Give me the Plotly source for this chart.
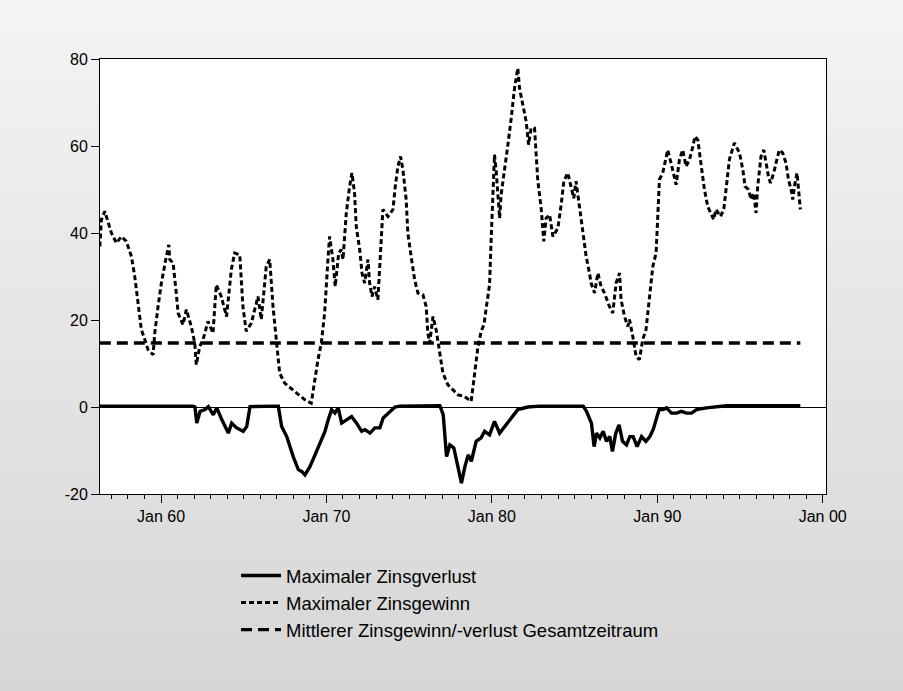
import base64
import plotly.graph_objects as go

# ---------------- data ----------------
gain_years = [1956.30, 1956.39, 1956.60, 1956.80, 1957.00, 1957.30, 1957.60, 1957.90, 1958.21, 1958.41,
              1958.61, 1958.81, 1959.02, 1959.21, 1959.52, 1959.62, 1959.82, 1960.02, 1960.32, 1960.47,
              1960.53, 1960.73, 1960.92, 1961.03, 1961.33, 1961.53, 1961.83, 1962.04, 1962.13, 1962.34,
              1962.54, 1962.84, 1963.14, 1963.34, 1963.64, 1963.96, 1964.25, 1964.45, 1964.76, 1964.95,
              1965.15, 1965.46, 1965.86, 1966.06, 1966.36, 1966.57, 1966.77, 1966.97, 1967.17, 1967.47,
              1968.08, 1968.68, 1969.08, 1969.29, 1969.49, 1969.69, 1969.89, 1970.09, 1970.19, 1970.39,
              1970.53, 1970.74, 1970.89, 1971.00, 1971.10, 1971.20, 1971.40, 1971.54, 1971.70, 1971.80,
              1972.01, 1972.15, 1972.31, 1972.51, 1972.61, 1972.75, 1972.91, 1973.11, 1973.28, 1973.41,
              1973.72, 1974.02, 1974.16, 1974.32, 1974.48, 1974.62, 1974.82, 1974.92, 1975.12, 1975.33,
              1975.53, 1975.83, 1976.03, 1976.13, 1976.24, 1976.44, 1976.63, 1976.84, 1977.04, 1977.34,
              1977.95, 1978.35, 1978.75, 1978.95, 1979.15, 1979.35, 1979.52, 1979.66, 1979.86, 1979.96,
              1980.06, 1980.16, 1980.26, 1980.36, 1980.47, 1980.56, 1980.77, 1980.97, 1981.17, 1981.37,
              1981.57, 1981.67, 1981.87, 1982.07, 1982.22, 1982.37, 1982.58, 1982.68, 1982.78, 1982.98,
              1983.14, 1983.28, 1983.49, 1983.69, 1983.99, 1984.19, 1984.35, 1984.59, 1984.79, 1984.95,
              1985.09, 1985.30, 1985.40, 1985.60, 1985.70, 1985.90, 1986.00, 1986.21, 1986.41, 1986.60,
              1986.81, 1987.11, 1987.31, 1987.51, 1987.72, 1987.81, 1988.02, 1988.22, 1988.32, 1988.52,
              1988.72, 1988.92, 1989.12, 1989.32, 1989.53, 1989.73, 1989.93, 1990.03, 1990.13, 1990.33,
              1990.53, 1990.63, 1990.83, 1991.04, 1991.14, 1991.34, 1991.54, 1991.74, 1991.95, 1992.15,
              1992.28, 1992.45, 1992.65, 1992.85, 1993.05, 1993.21, 1993.41, 1993.55, 1993.82, 1994.02,
              1994.16, 1994.36, 1994.66, 1994.97, 1995.17, 1995.31, 1995.51, 1995.67, 1995.83, 1995.97,
              1996.07, 1996.27, 1996.44, 1996.57, 1996.72, 1996.84, 1997.04, 1997.18, 1997.38, 1997.58,
              1997.78, 1997.93, 1998.09, 1998.19, 1998.29, 1998.45, 1998.55, 1998.65]
gain_values = [36.9, 43.0, 45.0, 42.4, 40.0, 37.7, 39.2, 38.1, 34.6, 30.0,
               23.9, 17.8, 15.5, 13.2, 12.0, 17.0, 23.1, 28.5, 34.6, 37.3,
               33.9, 33.1, 26.2, 21.6, 18.9, 22.4, 18.5, 14.7, 9.7, 13.9,
               15.5, 19.7, 17.0, 28.1, 25.4, 20.8, 31.6, 35.4, 35.0, 23.1,
               17.4, 19.3, 25.4, 20.1, 32.3, 33.9, 23.1, 14.7, 7.8, 5.5,
               3.6, 1.7, 0.9, 6.3, 10.9, 14.7, 21.6, 33.9, 39.2, 33.9,
               27.7, 35.4, 36.2, 33.9, 40.0, 44.6, 50.7, 53.8, 49.2, 41.5,
               36.2, 30.8, 28.5, 33.9, 28.5, 25.4, 27.7, 24.7, 36.2, 45.4,
               43.8, 45.4, 50.7, 55.3, 57.6, 54.6, 47.7, 40.0, 34.6, 29.3,
               26.2, 25.8, 23.1, 17.0, 14.7, 20.8, 17.8, 12.4, 7.8, 5.1,
               2.8, 2.4, 1.3, 7.4, 13.6, 17.4, 18.9, 22.8, 28.1, 38.9,
               50.3, 58.0, 54.2, 48.8, 43.4, 48.8, 54.2, 60.3, 66.4, 73.3,
               77.9, 73.3, 69.5, 65.7, 60.3, 64.1, 64.1, 58.0, 51.9, 45.7,
               38.1, 43.4, 44.2, 39.2, 41.1, 46.5, 51.9, 53.8, 50.3, 48.0,
               51.9, 45.7, 42.3, 37.7, 34.6, 30.8, 28.5, 26.2, 30.8, 27.7,
               26.2, 23.1, 21.6, 28.5, 30.8, 24.7, 20.8, 18.5, 20.1, 16.2,
               11.6, 10.9, 15.5, 17.8, 24.7, 32.3, 35.4, 45.4, 52.3, 53.8,
               56.9, 59.1, 56.1, 53.0, 51.1, 56.9, 59.1, 55.3, 56.9, 59.9,
               62.2, 61.4, 55.3, 50.0, 46.1, 44.6, 43.1, 45.4, 43.8, 45.4,
               50.7, 56.9, 60.7, 58.4, 54.6, 50.7, 50.0, 47.7, 49.2, 44.6,
               50.7, 57.6, 59.1, 56.1, 53.0, 51.5, 53.8, 56.1, 59.1, 58.4,
               56.1, 52.3, 50.0, 47.7, 50.7, 53.8, 50.0, 45.4]

loss_years = [1956.30, 1961.93, 1962.05, 1962.16, 1962.36, 1962.66, 1962.86, 1963.16, 1963.37, 1963.67,
              1964.07, 1964.27, 1964.57, 1964.97, 1965.18, 1965.38, 1967.09, 1967.29, 1967.60, 1967.79,
              1967.99, 1968.30, 1968.50, 1968.70, 1969.00, 1969.31, 1969.61, 1969.91, 1970.11, 1970.31,
              1970.51, 1970.71, 1970.92, 1971.22, 1971.52, 1971.82, 1972.13, 1972.33, 1972.63, 1972.93,
              1973.23, 1973.43, 1973.84, 1974.14, 1974.44, 1976.86, 1977.06, 1977.26, 1977.46, 1977.70,
              1977.90, 1978.16, 1978.37, 1978.57, 1978.76, 1979.05, 1979.35, 1979.56, 1979.86, 1980.16,
              1980.47, 1980.86, 1981.27, 1981.57, 1982.18, 1982.90, 1985.52, 1985.72, 1986.02, 1986.18,
              1986.33, 1986.53, 1986.73, 1986.93, 1987.13, 1987.29, 1987.49, 1987.69, 1987.90, 1988.14,
              1988.34, 1988.54, 1988.78, 1989.05, 1989.31, 1989.55, 1989.75, 1989.95, 1990.11, 1990.35,
              1990.56, 1990.86, 1991.16, 1991.46, 1991.76, 1992.07, 1992.37, 1992.97, 1993.58, 1994.18,
              1998.65]
loss_values = [0.2, 0.2, 0.0, -3.7, -1.0, -0.6, 0.1, -1.8, -0.2, -2.9,
               -6.0, -3.7, -4.8, -5.6, -4.5, 0.1, 0.2, -4.5, -6.8, -9.1,
               -11.4, -14.4, -14.8, -15.6, -13.7, -11.0, -8.3, -5.6, -2.9, -0.6,
               -1.4, -0.2, -3.7, -2.9, -2.2, -3.7, -5.6, -5.2, -6.0, -4.8,
               -4.8, -2.5, -1.0, 0.0, 0.2, 0.3, -1.8, -11.4, -8.7, -9.4,
               -12.9, -17.5, -13.7, -11.0, -12.5, -7.9, -7.1, -5.6, -6.4, -3.3,
               -6.0, -4.1, -1.8, -0.6, 0.0, 0.2, 0.2, -1.0, -3.7, -9.1,
               -6.0, -7.1, -5.6, -7.9, -6.8, -10.2, -6.0, -4.1, -7.9, -8.7,
               -6.8, -6.8, -9.1, -6.8, -7.9, -6.8, -5.2, -2.9, -0.6, -0.6,
               -0.2, -1.4, -1.4, -1.0, -1.4, -1.4, -0.6, -0.2, 0.1, 0.3,
               0.3]

mean_value = 14.7
mean_years = [1956.30, 1998.65]

tick_years = [1960, 1970, 1980, 1990, 2000]
tick_labels = ["Jan 60", "Jan 70", "Jan 80", "Jan 90", "Jan 00"]
y_ticks = [-20, 0, 20, 40, 60, 80]
y_tick_labels = ["-20", "0", "20", "40", "60", "80"]

series_names = ["Maximaler Zinsgverlust",
                "Maximaler Zinsgewinn",
                "Mittlerer Zinsgewinn/-verlust Gesamtzeitraum"]

# ---------------- figure ----------------
FONT = "Liberation Sans, Arial, sans-serif"
W, H = 903, 691
ML, MR, MT, MB = 100, 77, 59, 197

fig = go.Figure()
fig.add_trace(go.Scatter(x=loss_years, y=loss_values, mode="lines", name=series_names[0],
                         line=dict(color="black", width=3.4)))
fig.add_trace(go.Scatter(x=gain_years, y=gain_values, mode="lines", name=series_names[1],
                         line=dict(color="black", width=3, dash="5px,3px")))
fig.add_trace(go.Scatter(x=mean_years, y=[mean_value] * len(mean_years), mode="lines",
                         name=series_names[2],
                         line=dict(color="black", width=3.4, dash="11px,6px")))

# gradient page background
pw, ph = W - ML - MR, H - MT - MB
svg = ('<svg xmlns="http://www.w3.org/2000/svg" width="100" height="100" preserveAspectRatio="none">'
       '<defs><linearGradient id="g" x1="0" y1="0" x2="0" y2="1">'
       '<stop offset="0" stop-color="#f4f4f4"/><stop offset="1" stop-color="#d6d6d6"/>'
       '</linearGradient></defs><rect width="100" height="100" fill="url(#g)"/></svg>')
src = "data:image/svg+xml;base64," + base64.b64encode(svg.encode()).decode()

fig.update_layout(
    width=W, height=H,
    margin=dict(l=ML, r=MR, t=MT, b=MB),
    paper_bgcolor="#e6e6e6",
    plot_bgcolor="white",
    font=dict(family=FONT, size=16, color="black"),
    showlegend=True,
    legend=dict(x=(236 - ML) / pw, y=-(557 - (MT + ph)) / ph, xanchor="left", yanchor="top",
                bgcolor="rgba(0,0,0,0)", font=dict(size=18.5, family=FONT, color="black"),
                traceorder="normal", itemwidth=40),
    images=[dict(source=src, xref="paper", yref="paper", x=-ML / pw, y=1 + MT / ph,
                 sizex=W / pw, sizey=H / ph, sizing="stretch", xanchor="left", yanchor="top",
                 layer="below")],
    shapes=[dict(type="rect", xref="x domain", yref="y domain", x0=0, x1=1, y0=0, y1=1,
                 fillcolor="white", line=dict(width=0), layer="below")],
)
fig.update_xaxes(range=[1956.31, 2000.2], tickmode="array", tickvals=tick_years, ticktext=tick_labels,
                 ticks="outside", ticklen=8, tickwidth=1, tickcolor="black",
                 minor=dict(ticks="outside", ticklen=4, dtick=1, tick0=1956, tickcolor="black", tickwidth=1),
                 showline=True, linecolor="black", linewidth=1, mirror=True,
                 showgrid=False, zeroline=False, tickfont=dict(size=16, family=FONT))
fig.update_yaxes(range=[-20, 80], tickmode="array", tickvals=y_ticks, ticktext=y_tick_labels,
                 ticks="outside", ticklen=8,
                 tickwidth=1, tickcolor="black", showline=True, linecolor="black", linewidth=1,
                 mirror=True, showgrid=False, zeroline=True, zerolinecolor="black", zerolinewidth=1,
                 tickfont=dict(size=16, family=FONT))

fig.write_html("out.html", config={"displayModeBar": False},
               post_script="document.body.style.margin='0';")
